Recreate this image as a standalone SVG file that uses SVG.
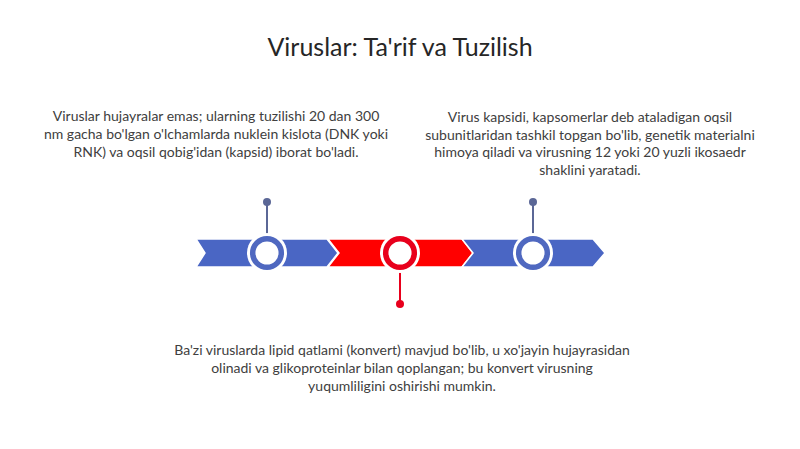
<svg xmlns="http://www.w3.org/2000/svg" width="800" height="449" viewBox="0 0 800 449">
<style>
text{font-family:Lato,"Open Sans","DejaVu Sans",sans-serif;fill:#404040;text-anchor:middle}
.t{font-size:25px;fill:#262626}
.b{font-size:14px}
.blue{fill:#4a66c4;stroke:#fff;stroke-width:1.5}
.red{fill:#ff0000;stroke:#fff;stroke-width:1.5}
.halo{fill:#fff}
.rb{fill:#fff;stroke:#4f68c0;stroke-width:5.5}
.rr{fill:#fff;stroke:#e8001c;stroke-width:5.5}
.pb{stroke:#5b6796;stroke-width:2}
.pr{stroke:#e8001c;stroke-width:2}
</style>
<rect width="800" height="449" fill="#fff"/>
<text class="t" x="400" y="56">Viruslar: Ta'rif va Tuzilish</text>
<g id="connectors">
<line class="pb" x1="267" y1="202" x2="267" y2="236"/>
<circle cx="267" cy="202" r="4" fill="#5b6796"/>
<line class="pr" x1="400" y1="270" x2="400" y2="304"/>
<circle cx="400" cy="304" r="4" fill="#e8001c"/>
<line class="pb" x1="533" y1="202" x2="533" y2="236"/>
<circle cx="533" cy="202" r="4" fill="#5b6796"/>
</g>
<g id="seg1"><polygon class="blue" points="196,239 327,239 338,253 327,267 196,267 205,253"/></g>
<g id="seg2"><polygon class="red" points="328,239 462,239 473,253 462,267 328,267 339,253"/></g>
<g id="seg3"><polygon class="blue" points="462,239 593,239 605,253 593,267 462,267 473,253"/></g>
<g id="node1">
<circle class="halo" cx="267" cy="253" r="20"/>
<circle class="rb" cx="267" cy="253" r="14.3"/>
<text class="b" x="216" y="121">Viruslar hujayralar emas; ularning tuzilishi 20 dan 300</text>
<text class="b" x="216" y="139">nm gacha bo'lgan o'lchamlarda nuklein kislota (DNK yoki</text>
<text class="b" x="216" y="157">RNK) va oqsil qobig'idan (kapsid) iborat bo'ladi.</text>
</g>
<g id="node2">
<circle class="halo" cx="400" cy="253" r="20"/>
<circle class="rr" cx="400" cy="253" r="14.3"/>
<text class="b" x="402" y="355">Ba'zi viruslarda lipid qatlami (konvert) mavjud bo'lib, u xo'jayin hujayrasidan</text>
<text class="b" x="402" y="373">olinadi va glikoproteinlar bilan qoplangan; bu konvert virusning</text>
<text class="b" x="402" y="391">yuqumliligini oshirishi mumkin.</text>
</g>
<g id="node3">
<circle class="halo" cx="533" cy="253" r="20"/>
<circle class="rb" cx="533" cy="253" r="14.3"/>
<text class="b" x="590" y="122">Virus kapsidi, kapsomerlar deb ataladigan oqsil</text>
<text class="b" x="590" y="139.5">subunitlaridan tashkil topgan bo'lib, genetik materialni</text>
<text class="b" x="590" y="157">himoya qiladi va virusning 12 yoki 20 yuzli ikosaedr</text>
<text class="b" x="590" y="174.5">shaklini yaratadi.</text>
</g>
</svg>
